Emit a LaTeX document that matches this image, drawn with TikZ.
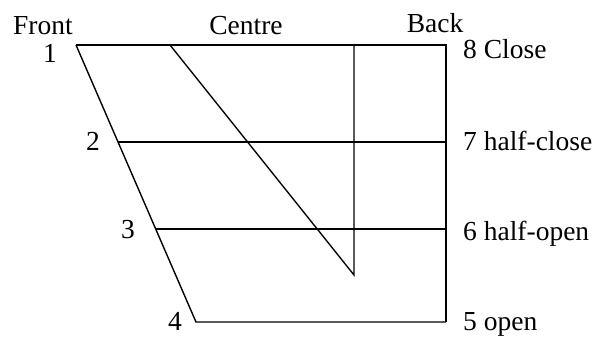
\documentclass[tikz,border=0pt]{standalone}
\usepackage{fontspec}
\setmainfont{Liberation Serif}
\begin{document}
\begin{tikzpicture}[x=1pt, y=-1pt, font=\fontsize{27.5}{30}\selectfont, line join=miter, line cap=butt,
  heavy/.style={line width=2.2pt}, light/.style={line width=1.4pt}, lbl/.style={inner sep=0pt, anchor=base}]
	\useasboundingbox (0,0) rectangle (599,337);
	% corners of the vowel chart
	\coordinate (f1) at (76,45);
	\coordinate (f2) at (118,142);
	\coordinate (f3) at (156,229);
	\coordinate (f4) at (196,322);
	\coordinate (b8) at (446,45);
	\coordinate (b7) at (446,142);
	\coordinate (b6) at (446,229);
	\coordinate (b5) at (446,322);
	\coordinate (ctop) at (170,45);
	\coordinate (mtop) at (354,45);
	\coordinate (mbot) at (354,275);
	% lines
	\draw[heavy] (f1) -- (b8) -- (b5);
	\draw[light] (f1) -- (f4) -- (b5);
	\draw[heavy] (f2) -- (b7);
	\draw[light] (f3) -- (b6);
	\draw[light] (ctop) -- (mbot) -- (mtop);
	% labels
	\node[lbl] (front) at (43,35) {Front};
	\node[lbl] (centre) at (246,35) {Centre};
	\node[lbl] (back) at (435,33) {Back};
	\node[lbl] (n1) at (50,63) {1};
	\node[lbl] (n2) at (93,150) {2};
	\node[lbl] (n3) at (128,238) {3};
	\node[lbl] (n4) at (175,330) {4};
	\node[lbl, anchor=base west] (n8) at (463,59) {8 Close};
	\node[lbl, anchor=base west] (n7) at (463,150) {7 half-close};
	\node[lbl, anchor=base west] (n6) at (463,240) {6 half-open};
	\node[lbl, anchor=base west] (n5) at (463,330) {5 open};
\end{tikzpicture}
\end{document}
